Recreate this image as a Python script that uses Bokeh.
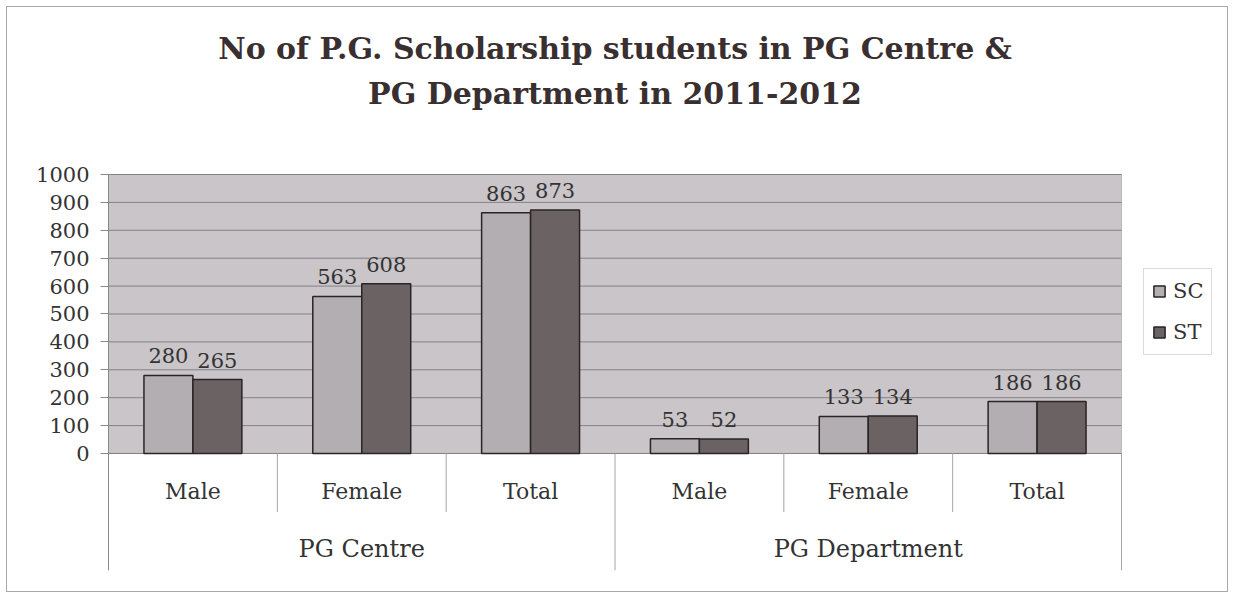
from bokeh.plotting import figure
from bokeh.models import (FactorRange, ColumnDataSource, Range1d, FixedTicker,
                          BoxAnnotation, Legend, LegendItem, Title, CategoricalAxis)
from bokeh.core.properties import value
from bokeh.transform import dodge
from bokeh.embed import file_html
from bokeh.resources import INLINE

# ---- data ----
groups = ["PG Centre", "PG Department"]
subgroups = ["Male", "Female", "Total"]
sc_values = [280, 563, 863, 53, 133, 186]
st_values = [265, 608, 873, 52, 134, 186]
series = ["SC", "ST"]
y_ticks = [0, 100, 200, 300, 400, 500, 600, 700, 800, 900, 1000]
title_lines = ["No of P.G. Scholarship students in PG Centre &",
               "PG Department in 2011-2012"]

factors = [(g, s) for g in groups for s in subgroups]
n_cat = len(factors)
y_max = y_ticks[-1]

FONT = "DejaVu Serif"
TXT = "#333333"
SC_COLOR = "#b3aeb1"
ST_COLOR = "#6b6264"
BAR_LINE = "#2a2426"

src = ColumnDataSource(dict(
    x=factors,
    sc=sc_values,
    st=st_values,
    sc_lab=[str(v) for v in sc_values],
    st_lab=[str(v) for v in st_values],
))

# frame spans 3..1226 px; plot area (the categories) spans 108..1121 px
x_range = FactorRange(*factors, group_padding=0, factor_padding=0,
                      subgroup_padding=0, range_padding=0.207305,
                      range_padding_units="percent")

# frame spans 160..570 px; value 1000 at 174 px, 0 at 453 px
y_lo, y_hi = -419.4, 1050.2

p = figure(width=1234, height=598, x_range=x_range,
           y_range=Range1d(y_lo, y_hi),
           output_backend="svg", toolbar_location=None,
           min_border_left=3, min_border_right=8,
           min_border_top=160, min_border_bottom=28,
           outline_line_color=None, background_fill_color=None,
           border_fill_color=None)
p.styles = {"outline": "1px solid #a9a9a9", "outline-offset": "-7px",
            "background-color": "white"}

# plot area background
bg = BoxAnnotation(left=0, right=n_cat, bottom=0, top=y_max,
                   fill_color="#c9c5c8", fill_alpha=1,
                   line_color="#5f5c5e", line_width=1, level="image")
p.add_layout(bg)

# horizontal grid lines (only across the plot area)
p.xgrid.grid_line_color = None
p.ygrid.grid_line_color = None
p.segment(x0=[0] * len(y_ticks), x1=[n_cat] * len(y_ticks), y0=y_ticks, y1=y_ticks,
          line_color="#858284", line_width=1)

# y axis, fixed at the left edge of the categories
ya = p.yaxis[0]
ya.fixed_location = 0
ya.bounds = (y_lo, y_max)
ya.ticker = FixedTicker(ticks=y_ticks)
ya.axis_line_color = "#8a8a8a"
ya.major_tick_line_color = "#8a8a8a"
ya.major_tick_out = 8
ya.major_tick_in = 0
ya.minor_tick_line_color = None
ya.major_label_standoff = 11
ya.major_label_text_font = FONT
ya.major_label_text_font_size = "21px"
ya.major_label_text_color = TXT

# x axis (sub-categories) at y = 0
xa = p.xaxis[0]
xa.fixed_location = 0
xa.axis_line_color = None
xa.major_tick_line_color = None
xa.major_tick_in = 0
xa.major_tick_out = 0
xa.minor_tick_line_color = None
xa.major_label_standoff = 26
xa.major_label_text_font = FONT
xa.major_label_text_font_size = "22px"
xa.major_label_text_color = TXT
xa.group_text_alpha = 0
xa.separator_line_color = None

# second axis for the groups
ga = CategoricalAxis(fixed_location=0)
ga.axis_line_color = None
ga.major_tick_line_color = None
ga.major_tick_in = 0
ga.major_tick_out = 0
ga.minor_tick_line_color = None
ga.major_label_standoff = 82
ga.major_label_text_font = FONT
ga.major_label_text_font_size = "22px"
ga.major_label_text_alpha = 0
ga.group_text_font = FONT
ga.group_text_font_size = "24px"
ga.group_text_font_style = "normal"
ga.group_text_color = TXT
ga.separator_line_color = None
p.add_layout(ga, "below")

# category separators
inner_x = [(g, s, -0.5) for g in groups for s in subgroups[1:]]
outer_x = [(g, subgroups[0], -0.5) for g in groups] + [(groups[-1], subgroups[-1], 0.5)]
p.segment(x0=inner_x, x1=inner_x, y0=[0] * len(inner_x), y1=[-210] * len(inner_x),
          line_color="#a5a5a5", line_width=1)
p.segment(x0=outer_x, x1=outer_x, y0=[0] * len(outer_x), y1=[y_lo] * len(outer_x),
          line_color="#a5a5a5", line_width=1)

# bars
r_sc = p.vbar(x=dodge("x", -0.145, range=p.x_range), top="sc", width=0.29, source=src,
              fill_color=SC_COLOR, line_color=BAR_LINE, line_width=1.5)
r_st = p.vbar(x=dodge("x", 0.145, range=p.x_range), top="st", width=0.29, source=src,
              fill_color=ST_COLOR, line_color=BAR_LINE, line_width=1.5)

# value labels
for col, lab, off in (("sc", "sc_lab", -0.145), ("st", "st_lab", 0.145)):
    p.text(x=dodge("x", off, range=p.x_range), y=col, text=lab, source=src,
           text_align="center", text_baseline="bottom", y_offset=-12,
           text_font=value(FONT), text_font_size="21px", text_color=TXT)

# legend (inside the frame, right of the plot area)
legend = Legend(items=[LegendItem(label=series[0], renderers=[r_sc]),
                       LegendItem(label=series[1], renderers=[r_st])],
                location=(1140, 215), margin=0, padding=8, spacing=13,
                glyph_width=14, glyph_height=14, label_height=28,
                label_standoff=7,
                label_text_font=FONT, label_text_font_size="21px",
                label_text_color=TXT,
                border_line_color="#b5b5b5", border_line_width=1,
                background_fill_color="white")
p.add_layout(legend, "center")

# title (two lines) + spacer between title and plot area
spacer = Title(text=" ", text_font_size="2px", standoff=41)
t2 = Title(text=title_lines[1], align="center", standoff=9,
           text_font=FONT, text_font_size="30px", text_font_style="bold",
           text_color="#3a2f30")
t1 = Title(text=title_lines[0], align="center", standoff=8,
           text_font=FONT, text_font_size="30px", text_font_style="bold",
           text_color="#3a2f30")
p.add_layout(spacer, "above")
p.add_layout(t2, "above")
p.add_layout(t1, "above")
p.title.visible = False

open("out.html", "w").write(file_html(p, INLINE))
